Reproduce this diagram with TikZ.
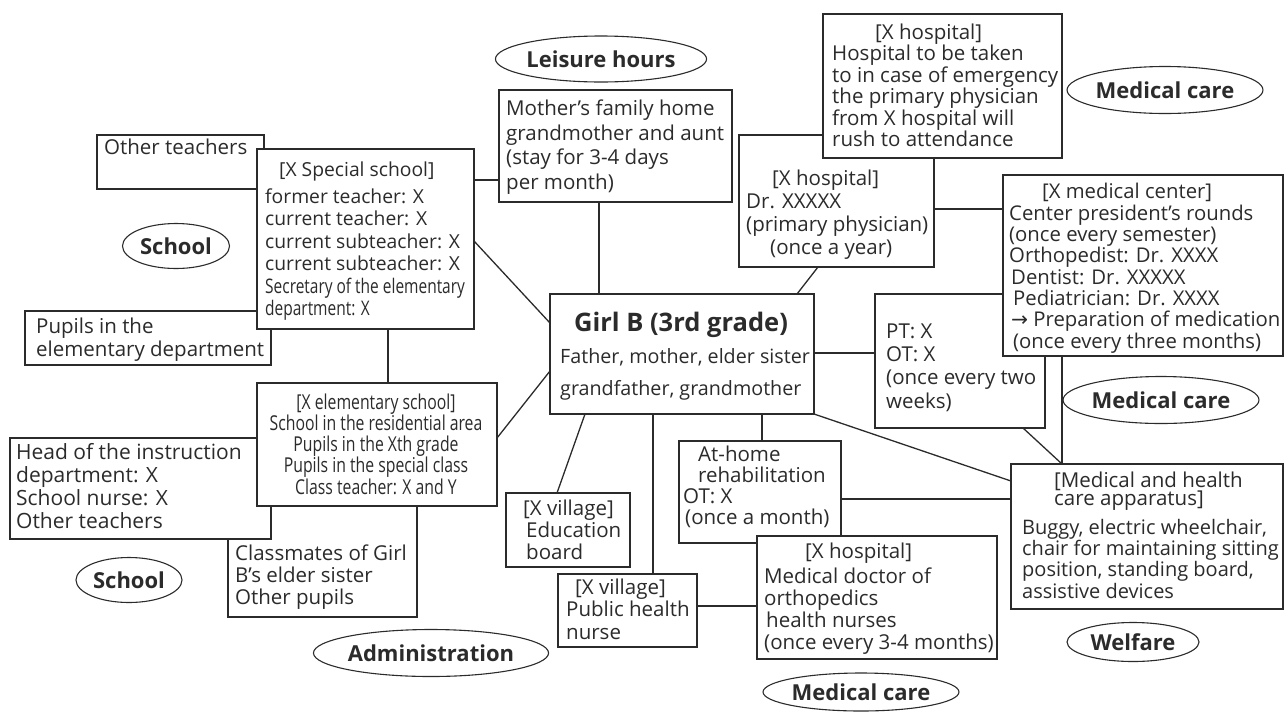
\documentclass[tikz,border=0pt]{standalone}
\usepackage{fontspec}
\setmainfont{Open Sans}
\newfontfamily\narrowfont[FakeStretch=0.77]{Open Sans}
\newfontfamily\arrowfont{DejaVu Sans}
\usetikzlibrary{shapes.geometric}
\definecolor{ink}{HTML}{2B2B2B}
\newcommand{\fsz}[1]{\fontsize{20.5}{#1}\selectfont}
\newcommand{\fsm}[2]{\fontsize{#1}{#2}\selectfont}
\begin{document}
% Text nodes are placed by the baseline of their last line.
\begin{tikzpicture}[x=1pt,y=-1pt,
  box/.style={draw=ink, line width=1.3pt, fill=white, rectangle, inner sep=0pt, outer sep=0pt, anchor=north west},
  txt/.style={anchor=base west, align=left, inner sep=0pt, text=ink},
  tag/.style={ellipse, draw=ink, line width=1.1pt, inner sep=0pt, text=ink, font=\fontsize{22}{24}\selectfont\bfseries},
  link/.style={draw=ink, line width=1.3pt}]
\useasboundingbox (0,0) rectangle (1285,713);

% ---- boxes (back ones first) ----
\node[box, minimum width=167pt, minimum height=54pt] (ot) at (97,135) {};
\node[box, minimum width=246pt, minimum height=54pt] (pu) at (25,311) {};
\node[box, minimum width=217pt, minimum height=180pt] (sp) at (257,149) {};
\node[box, minimum width=189pt, minimum height=122pt] (cl) at (228,495) {};
\node[box, minimum width=261pt, minimum height=101pt] (hd) at (10,438) {};
\node[box, minimum width=240pt, minimum height=123pt] (el) at (257,383) {};
\node[box, minimum width=233pt, minimum height=112pt] (mo) at (499,90) {};
\node[box, minimum width=264pt, minimum height=120pt] (gb) at (550,294) {};
\node[box, minimum width=195pt, minimum height=132pt] (ph) at (739,135) {};
\node[box, minimum width=239pt, minimum height=144pt] (em) at (823,14) {};
\node[box, minimum width=170pt, minimum height=134pt] (pt) at (875,294) {};
\node[box, minimum width=280pt, minimum height=181pt] (mc) at (1003,175) {};
\node[box, minimum width=272pt, minimum height=145pt] (ap) at (1011,464) {};
\node[box, minimum width=162pt, minimum height=102pt] (ah) at (679,441) {};
\node[box, minimum width=124pt, minimum height=74pt] (ed) at (506,493) {};
\node[box, minimum width=139pt, minimum height=73pt] (pn) at (558,574) {};
\node[box, minimum width=240pt, minimum height=123pt] (ho) at (757,536) {};

% ---- category ellipses ----
\node[tag, minimum width=107pt, minimum height=45pt] (school1) at (176,246) {School};
\node[tag, minimum width=106pt, minimum height=45pt] (school2) at (129,580) {School};
\node[tag, minimum width=189pt, minimum height=47pt] (admin) at (431,653) {Administration};
\node[tag, minimum width=183pt, minimum height=46pt] (leisure) at (601,59) {Leisure hours};
\node[tag, minimum width=176pt, minimum height=47pt] (med1) at (1165,90) {Medical care};
\node[tag, minimum width=175pt, minimum height=47pt] (med2) at (1161,400) {Medical care};
\node[tag, minimum width=132pt, minimum height=39pt] (welfare) at (1133,642) {Welfare};
\node[tag, minimum width=175pt, minimum height=38pt] (med3) at (861,692) {Medical care};

% ---- box texts ----
\node[txt, font=\fsz{22}] (ot-t) at (104,154) {Other teachers};
\node[txt, font=\fsz{23}] (pu-t) at (36,356) {Pupils in the\\elementary department};
\node[txt, font=\fsm{19.3}{22.4}] (sp-t) at (265,315.4) {\hspace*{14pt}{[X Special school]}\\[5pt]
  former teacher: X\\current teacher: X\\current subteacher: X\\current subteacher: X\\
  {\narrowfont\fsm{20.1}{22.4}Secretary of the elementary}\\{\narrowfont\fsm{20.1}{22.4}department: X}};
\node[txt, font=\fsm{21}{23}] (hd-t) at (16,528) {Head of the instruction\\department: X\\School nurse: X\\Other teachers};
\node[txt, font=\fsz{22}] (cl-t) at (235,604) {Classmates of Girl\\B’s elder sister\\Other pupils};
\node[txt, align=center, anchor=base, font=\narrowfont\fsz{21.2}] (el-t) at (376,494) {{[X elementary school]}\\School in the residential area\\Pupils in the Xth grade\\Pupils in the special class\\Class teacher: X and Y};
\node[txt, font=\fsz{24.4}] (mo-t) at (506,189) {Mother’s family home\\grandmother and aunt\\(stay for 3-4 days\\per month)};
\node[txt, anchor=base, font=\fontsize{25.5}{28}\selectfont\bfseries] (gb-h) at (681,331) {Girl B (3rd grade)};
\node[txt, font=\fsm{19.7}{32}] (gb-t) at (560,395) {Father, mother, elder sister\\grandfather, grandmother};
\node[txt, font=\fsz{22.7}] (ph-t) at (746,254) {\hspace*{26pt}{[X hospital]}\\Dr. XXXXX\\(primary physician)\\\hspace*{24pt}(once a year)};
\node[txt, font=\fsz{21.5}] (em-t) at (832,146.5) {\hspace*{43pt}{[X hospital]}\\Hospital to be taken\\to in case of emergency\\the primary physician\\from X hospital will\\rush to attendance};
\node[txt, font=\fsm{20.3}{21.3}] (mc-t) at (1009,348) {\hspace*{33pt}{[X medical center]}\\Center president’s rounds\\(once every semester)\\Orthopedist: Dr. XXXX\\
  \hspace*{2pt}Dentist: Dr. XXXXX\\\hspace*{4pt}Pediatrician: Dr. XXXX\\\hspace*{2pt}{\arrowfont →} Preparation of medication\\\hspace*{4pt}(once every three months)};
\node[txt, font=\fsz{23.3}] (pt-t) at (886,408) {PT: X\\OT: X\\(once every two\\weeks)};
\node[txt, font=\fsz{18}] (ap-h) at (1054,505) {{[Medical and health}\\care apparatus]};
\node[txt, font=\fsm{20}{21.3}] (ap-t) at (1022,598) {Buggy, electric wheelchair,\\chair for maintaining sitting\\position, standing board,\\assistive devices};
\node[txt, font=\fsz{21}] (ah-t) at (683,524) {\hspace*{15pt}At-home\\\hspace*{15pt}rehabilitation\\OT: X\\\hspace*{2pt}(once a month)};
\node[txt, font=\fsz{22}] (ed-t) at (523,559) {{[X village]}\\\hspace*{3pt}Education\\\hspace*{3pt}board};
\node[txt, font=\fsz{22.5}] (pn-t) at (566,639) {\hspace*{9pt}{[X village]}\\Public health\\nurse};
\node[txt, font=\fsz{22}] (ho-t) at (764,649) {\hspace*{41pt}{[X hospital]}\\[3pt]Medical doctor of\\orthopedics\\\hspace*{2pt}health nurses\\(once every 3-4 months)};

% ---- connectors ----
\draw[link] (sp.east |- 0,180) -- (mo.west |- 0,180);
\draw[link] (sp.east |- 0,241) -- (gb.west |- 0,323);
\draw[link] (388,0 |- sp.south) -- (388,0 |- el.north);
\draw[link] (gb.west |- 0,371) -- (el.east |- 0,438);
\draw[link] (599,0 |- mo.south) -- (599,0 |- gb.north);
\draw[link] (818,0 |- ph.south) -- (797,0 |- gb.north);
\draw[link] (ph.east |- 0,209) -- (mc.west |- 0,209);
\draw[link] (gb.east |- 0,353) -- (pt.west |- 0,353);
\draw[link] (gb.south east) -- (ap.west |- 0,481);
\draw[link] (1023,0 |- pt.south) -- (1062,0 |- ap.north);
\draw[link] (1062,0 |- mc.south) -- (1062,0 |- ap.north);
\draw[link] (585,0 |- gb.south) -- (557,0 |- ed.north);
\draw[link] (653,0 |- gb.south) -- (653,0 |- pn.north);
\draw[link] (762,0 |- gb.south) -- (762,0 |- ah.north);
\draw[link] (ah.east |- 0,499) -- (ap.west |- 0,499);
\draw[link] (pn.east |- 0,606) -- (ho.west |- 0,606);
\end{tikzpicture}
\end{document}
